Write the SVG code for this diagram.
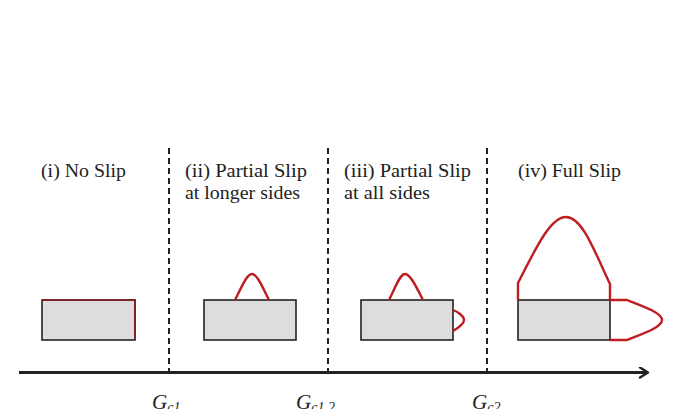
<svg xmlns="http://www.w3.org/2000/svg" width="677" height="409" viewBox="0 0 677 409">
<defs>
<style>
.lbl{font-family:"Liberation Serif","DejaVu Serif",serif;font-size:18px;fill:#222}
.g{font-family:"Liberation Serif","DejaVu Serif",serif;font-size:21px;font-style:italic;fill:#222}
.sub{font-size:14px}
.box{fill:#dddddd;stroke:#222;stroke-width:1.6}
.slip{fill:none;stroke:#c01c24;stroke-width:2.4;stroke-linejoin:round}
.dash{stroke:#222;stroke-width:2;stroke-dasharray:6,4}
</style>
<marker id="arr" markerWidth="12" markerHeight="12" refX="9" refY="6" orient="auto" markerUnits="userSpaceOnUse">
<path d="M2,1 L10,6 L2,11" fill="none" stroke="#222" stroke-width="2.4" stroke-linecap="round" stroke-linejoin="round"/>
</marker>
</defs>
<rect width="677" height="409" fill="#fff"/>
<g id="connectors">
<line x1="169" y1="148" x2="169" y2="372" class="dash"/>
<line x1="328" y1="148" x2="328" y2="372" class="dash"/>
<line x1="487" y1="148" x2="487" y2="372" class="dash"/>
<line x1="19" y1="372.5" x2="647" y2="372.5" stroke="#222" stroke-width="3" marker-end="url(#arr)"/>
</g>
<g id="node-i">
<text x="41" y="177" class="lbl" textLength="85" lengthAdjust="spacingAndGlyphs">(i) No Slip</text>
<rect x="42" y="300" width="93" height="40" class="box"/>
<path d="M42,300 H135 V340" fill="none" stroke="#8b1a1e" stroke-width="1.6"/>
</g>
<g id="node-ii">
<text x="185" y="177" class="lbl" textLength="122" lengthAdjust="spacingAndGlyphs">(ii) Partial Slip</text>
<text x="185" y="199" class="lbl" textLength="115" lengthAdjust="spacingAndGlyphs">at longer sides</text>
<rect x="204" y="300" width="92" height="40" class="box"/>
<path d="M235,300 C242,286 247,274 252,274 C257,274 262,286 269,300" class="slip"/>
</g>
<g id="node-iii">
<text x="344" y="177" class="lbl" textLength="127" lengthAdjust="spacingAndGlyphs">(iii) Partial Slip</text>
<text x="344" y="199" class="lbl" textLength="86" lengthAdjust="spacingAndGlyphs">at all sides</text>
<rect x="361" y="300" width="92" height="40" class="box"/>
<path d="M389,300 C396,286 400,274 405,274 C410,274 416,286 423,300" class="slip"/>
<path d="M453,310 C458,312 464,316 464,320 C464,324 458,328 453,331" class="slip"/>
</g>
<g id="node-iv">
<text x="518" y="177" class="lbl" textLength="103" lengthAdjust="spacingAndGlyphs">(iv) Full Slip</text>
<rect x="518" y="300" width="92" height="40" class="box"/>
<path d="M518,300 V283 C535,250 550,217 566,217 C582,217 594,250 610,284 V300" class="slip"/>
<path d="M610,300 H627 C645,307 662,313 662,320 C662,327 645,333 627,340 H610" class="slip"/>
</g>
<g id="axis-labels">
<text x="152" y="409" class="g">G<tspan class="sub" dy="3">c1</tspan></text>
<text x="296" y="409" class="g">G<tspan class="sub" dy="3">c1,2</tspan></text>
<text x="472" y="409" class="g">G<tspan class="sub" dy="3">c2</tspan></text>
</g>
</svg>
